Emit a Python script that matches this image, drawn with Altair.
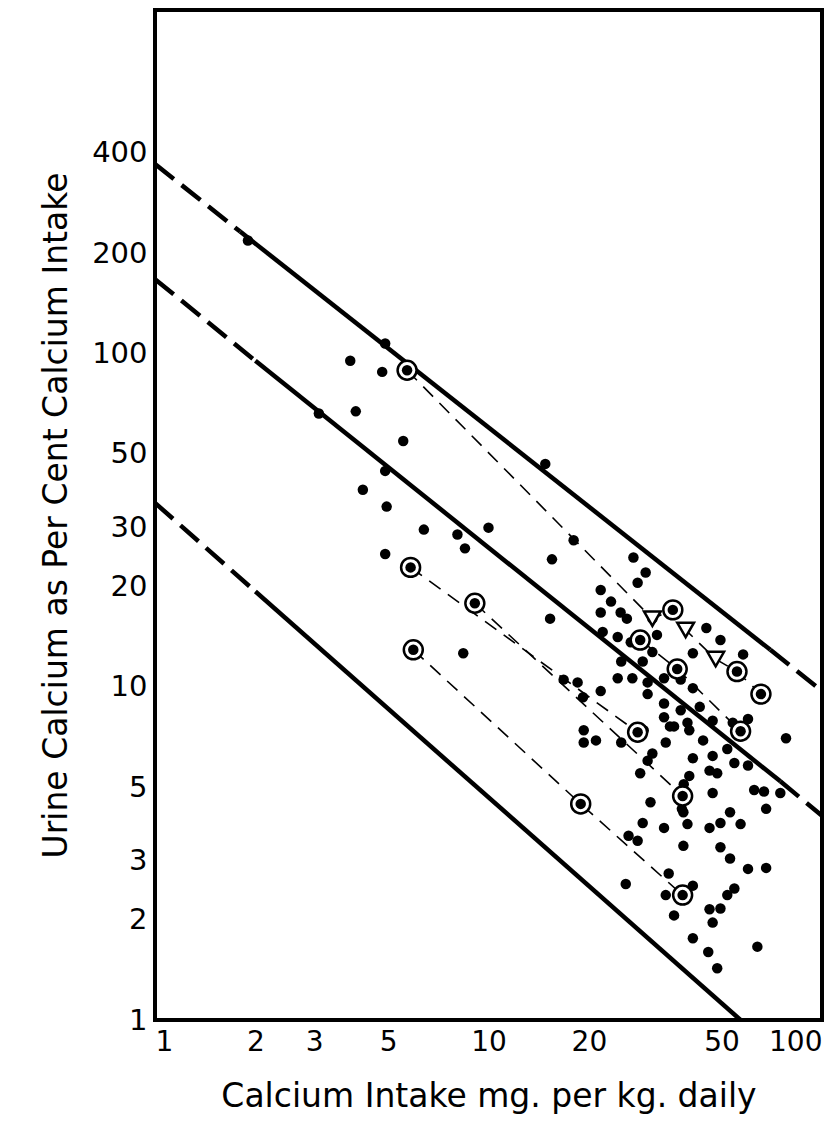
import altair as alt
import pandas as pd

# scattered observations (x = mg/kg daily, y = % of intake)
dot_x = [1.9,3.1,3.85,4.0,4.2,4.9,4.8,5.55,14.8,4.9,4.95,6.4,8.07,10,8.5,18,27.2,
         15.5,4.9,15.3,8.4,29.6,28,21.7,23.3,21.7,24.9,26,31,22,24.4,26.7,32,25,29,31,41,45,49.6,58,
         24.4,27,30,33.6,37.7,41,30,33.6,37.7,43,33.6,39.5,35,21.7,19.2,16.8,18.5,19.3,19.3,21,25,29.2,
         31,30,34,36,40,44,47,54,60,52,54.6,60,47,41,46,48.5,40,38.5,47,62.6,67,75,68,28.5,30.6,38,38.4,
         49.6,53,57,46,39.5,33.6,29,26.3,28,38.4,49.6,53,60,68,34.7,41,54.6,52,34,25.8,36,46,49.6,47,41,
         64,45.6,48.5,78]
dot_y = [218,66,95,67,39,107,88,54.6,46.6,44.4,34.7,29.6,28.6,30,26,27.5,24.4,
         24.1,25,16.0,12.6,22,20.5,19.5,18,16.7,16.7,16,16,14.6,14.1,13.6,14.3,11.9,11.9,12.7,12.6,15,13.8,12.5,
         10.6,10.6,10.3,10.6,10.5,9.9,9.5,8.9,8.5,8.7,8.1,7.8,7.6,9.7,9.3,10.5,10.3,7.4,6.8,6.9,6.8,7.4,
         6.3,6.0,6.8,7.6,7.4,6.9,7.9,7.8,8.0,6.5,5.9,5.8,6.2,6.1,5.6,5.5,5.4,5.1,4.8,4.9,4.85,4.8,4.3,5.5,4.5,4.3,4.2,
         3.9,4.2,3.87,3.77,3.87,3.77,3.9,3.57,3.45,3.33,3.3,3.05,2.84,2.86,2.75,2.53,2.48,2.37,2.37,2.56,2.06,2.15,2.16,1.96,1.76,
         1.66,1.6,1.43,7.0]

# circled (individual subjects)
circ_x = [5.7,5.84,9.1,5.95,18.9,28,28.5,35.7,36.8,38.2,38.2,55.6,57,65.6]
circ_y = [89,22.8,17.8,12.9,4.45,7.3,13.8,17,11.3,4.7,2.37,11.1,7.35,9.5]
tri_x = [31,39,48]
tri_y = [16.0,14.8,12.1]

# connecting series
conn = {
    "A": ([5.7,31,35.7,39,48,55.6,65.6], [89,16.0,17,14.8,12.1,11.1,9.5]),
    "B": ([5.84,28], [22.8,7.3]),
    "C": ([9.1,38.2], [17.8,4.7]),
    "D": ([5.95,18.9,38.2], [12.9,4.45,2.37]),
    "E": ([28.5,36.8,57], [13.8,11.3,7.35]),
}

# reference lines: (x0,y0,x1,y1,style)
ref_segments = [
    (1, 370, 1.8, 232, "dash"), (1.8, 232, 70, 12.9, "solid"), (70, 12.9, 100, 9.7, "dash"),
    (1, 167, 2, 95, "dash"), (2, 95, 75, 5.2, "solid"), (75, 5.2, 100, 4.1, "dash"),
    (1, 35.6, 2, 19.3, "dash"), (2, 19.3, 57, 1, "solid"),
]

x_ticks = [1, 2, 3, 5, 10, 20, 50, 100]
y_ticks = [1, 2, 3, 5, 10, 20, 30, 50, 100, 200, 400]

FONT = "DejaVu Sans"
xs = alt.Scale(type="log", domain=[1, 100], nice=False)
ys = alt.Scale(type="log", domain=[1, 1072], nice=False)

X = alt.X("x:Q", scale=xs, axis=alt.Axis(values=x_ticks, grid=False, ticks=False, domain=False,
          labelFontSize=28, labelFont=FONT, labelColor="black", labelPadding=8, labelFlush=True,
          title="Calcium  Intake   mg.  per  kg.  daily", titleFontSize=33, titleFont=FONT,
          titleFontWeight="normal", titleColor="black", titlePadding=24, labelOverlap=False))
Y = alt.Y("y:Q", scale=ys, axis=alt.Axis(values=y_ticks, grid=False, ticks=False, domain=False,
          labelFontSize=29, labelFont=FONT, labelColor="black", labelPadding=8, labelFlush=False,
          title="Urine  Calcium  as  Per  Cent  Calcium  Intake", titleFontSize=33, titleFont=FONT,
          titleFontWeight="normal", titleColor="black", titlePadding=18, labelOverlap=False))

dots = pd.DataFrame({"x": dot_x, "y": dot_y})
circ = pd.DataFrame({"x": circ_x, "y": circ_y})
tri = pd.DataFrame({"x": tri_x, "y": tri_y})
rows = []
for k, (cx, cy) in conn.items():
    for i, (a, b) in enumerate(zip(cx, cy)):
        rows.append({"s": k, "x": a, "y": b, "o": i})
conn_df = pd.DataFrame(rows)
seg_rows = []
for i, (x0, y0, x1, y1, st) in enumerate(ref_segments):
    seg_rows += [{"s": i, "x": x0, "y": y0, "st": st, "o": 0}, {"s": i, "x": x1, "y": y1, "st": st, "o": 1}]
seg = pd.DataFrame(seg_rows)

solid = alt.Chart(seg).transform_filter("datum.st=='solid'").mark_line(color="black", strokeWidth=4.5).encode(
    x=X, y=Y, detail="s:N", order="o:Q")
dashed = alt.Chart(seg).transform_filter("datum.st=='dash'").mark_line(color="black", strokeWidth=4.5,
    strokeDash=[24, 10]).encode(x=X, y=Y, detail="s:N", order="o:Q")
conn_l = alt.Chart(conn_df).mark_line(color="black", strokeWidth=1.6, strokeDash=[14, 9]).encode(
    x=X, y=Y, detail="s:N", order="o:Q")
dot_l = alt.Chart(dots).mark_point(shape="circle", filled=True, color="black", size=110, opacity=1).encode(x=X, y=Y)
ring = alt.Chart(circ).mark_point(shape="circle", filled=True, fill="white", stroke="black", strokeWidth=2.5,
    size=360, opacity=1).encode(x=X, y=Y)
ringdot = alt.Chart(circ).mark_point(shape="circle", filled=True, color="black", size=110, opacity=1).encode(x=X, y=Y)
tri_l = alt.Chart(tri).mark_point(shape="triangle-down", filled=True, fill="white", stroke="black",
    strokeWidth=2.5, size=280, opacity=1).encode(x=X, y=Y)

chart = alt.layer(solid, dashed, conn_l, dot_l, tri_l, ring, ringdot).properties(
    width=667, height=1010, padding={"left": 147, "top": 2, "right": 10, "bottom": 110},
    autosize=alt.AutoSizeParams(type="none"),
).configure(background="white").configure_view(stroke="black", strokeWidth=4)

chart.save("out.html", embed_options={"renderer": "svg", "actions": False})
